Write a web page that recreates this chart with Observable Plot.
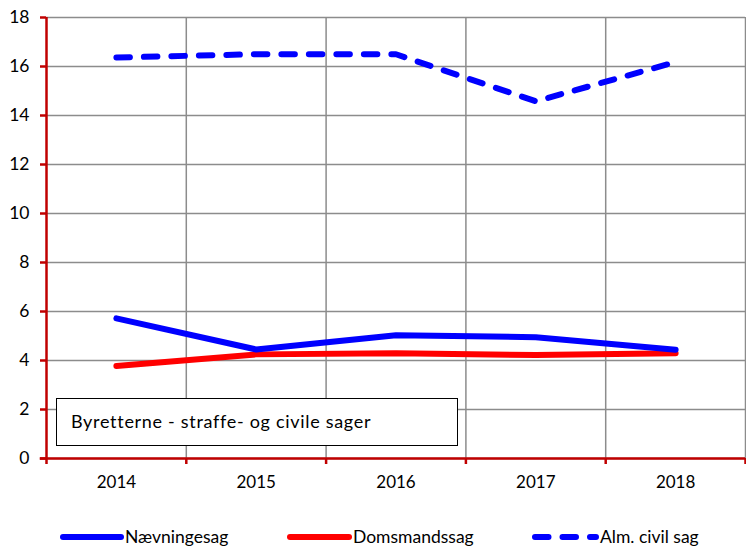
<!DOCTYPE html>
<html><head><meta charset="utf-8">
<script src="https://cdn.jsdelivr.net/npm/d3@7"></script>
<script src="https://cdn.jsdelivr.net/npm/@observablehq/plot@0.6"></script>
<style>
body{margin:0;background:#fff;font-family:Lato,"Open Sans",sans-serif;}
#wrap{position:relative;width:746px;height:546px;}
#box{position:absolute;left:56px;top:398px;width:400px;height:46px;border:1px solid #000;background:#fff;font-size:18px;line-height:46px;box-sizing:content-box;}
#box span{position:absolute;left:14px;top:-1px;letter-spacing:0.7px;white-space:nowrap;}
.leg{position:absolute;top:526px;height:22px;font-size:17.5px;line-height:22px;color:#000;}
.leg svg{position:absolute;left:0;top:0;}
.leg span{position:absolute;top:0;white-space:nowrap;}
</style></head>
<body><div id="wrap"></div>
<script>
const years = [2014, 2015, 2016, 2017, 2018];
const naevningesag = [5.72, 4.45, 5.03, 4.95, 4.44];
const domsmandssag = [3.78, 4.25, 4.30, 4.22, 4.30];
const almCivilSag = [16.37, 16.50, 16.50, 14.58, 16.18];
const yTicks = [0, 2, 4, 6, 8, 10, 12, 14, 16, 18];
const seriesNames = ["Nævningesag", "Domsmandssag", "Alm. civil sag"];
const boxTitle = "Byretterne - straffe- og civile sager";

const toRows = (vals, s) => years.map((y, i) => ({year: y, value: vals[i], series: s}));
const rowsN = toRows(naevningesag, seriesNames[0]);
const rowsD = toRows(domsmandssag, seriesNames[1]);
const rowsA = toRows(almCivilSag, seriesNames[2]);
const bounds = d3.range(years.length + 1).map(i => years[0] - 0.5 + i);
const red = "#c00000", grid = "#8c8c8c";

const chart = Plot.plot({
  width: 746, height: 505,
  marginLeft: 46, marginRight: 1, marginTop: 17, marginBottom: 47,
  style: {fontFamily: "Lato, 'Open Sans', sans-serif", color: "#000", background: "#fff"},
  x: {type: "linear", domain: [bounds[0], bounds[bounds.length - 1]]},
  y: {domain: [0, 18]},
  marks: [
    Plot.gridY(yTicks, {stroke: grid, strokeOpacity: 1, strokeWidth: 1.5}),
    Plot.ruleX(bounds.slice(1), {stroke: grid, strokeWidth: 1.5}),
    Plot.axisY(yTicks, {stroke: red, strokeWidth: 2.5, tickSize: 6, tickPadding: 11, fontSize: 17.5, label: null}),
    Plot.axisX(bounds, {stroke: red, strokeWidth: 2.5, tickSize: 6, tickFormat: () => "", label: null}),
    Plot.axisX(years, {tickSize: 0, tickPadding: 17, tickFormat: d3.format("d"), fontSize: 17, label: null}),
    Plot.ruleY([0], {stroke: red, strokeWidth: 2.5, x1: bounds[0] - 0.045, x2: bounds[bounds.length - 1]}),
    Plot.ruleX([bounds[0]], {stroke: red, strokeWidth: 2.5}),
    Plot.line(rowsA, {x: "year", y: "value", stroke: "#0000ff", strokeWidth: 6, strokeLinecap: "round", strokeDasharray: "13.5,14"}),
    Plot.line(rowsD, {x: "year", y: "value", stroke: "#ff0000", strokeWidth: 6, strokeLinecap: "round"}),
    Plot.line(rowsN, {x: "year", y: "value", stroke: "#0000ff", strokeWidth: 6, strokeLinecap: "round"})
  ]
});
const wrap = document.getElementById("wrap");
wrap.appendChild(chart);

const box = document.createElement("div");
box.id = "box";
box.innerHTML = `<span>${boxTitle}</span>`;
wrap.appendChild(box);

const legendItems = [
  {name: seriesNames[0], color: "#0000ff", dash: null, left: 58, w: 68},
  {name: seriesNames[1], color: "#ff0000", dash: null, left: 285, w: 69},
  {name: seriesNames[2], color: "#0000ff", dash: "13.5,14", left: 530, w: 71}
];
legendItems.forEach(it => {
  const d = document.createElement("div");
  d.className = "leg";
  d.style.left = it.left + "px";
  d.innerHTML = `<svg width="${it.w}" height="22"><line x1="5" x2="${it.w - 5}" y1="11" y2="11" stroke="${it.color}" stroke-width="6" stroke-linecap="round" ${it.dash ? `stroke-dasharray="${it.dash}"` : ""}/></svg><span style="left:${it.w - 1}px">${it.name}</span>`;
  wrap.appendChild(d);
});
</script></body></html>
